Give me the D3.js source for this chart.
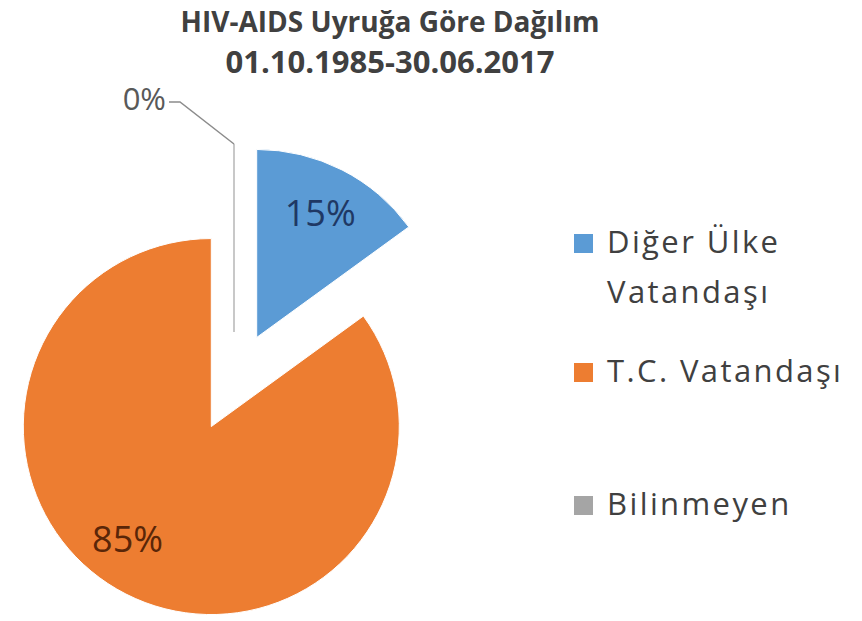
<!DOCTYPE html>
<html lang="tr">
<head>
<meta charset="UTF-8">
<title>HIV-AIDS Uyruğa Göre Dağılım</title>
<style>
  html, body { margin: 0; padding: 0; background: #fff; }
  text { font-family: "Open Sans", Lato, sans-serif; }
</style>
</head>
<body>
<script src="https://cdn.jsdelivr.net/npm/d3@7"></script>
<script>
  // data
  const categories = ["Diğer Ülke Vatandaşı", "T.C. Vatandaşı", "Bilinmeyen"];
  const shares = [15, 85, 0];
  const legendLines = [["Diğer Ülke", "Vatandaşı"], ["T.C. Vatandaşı"], ["Bilinmeyen"]];
  const titleLines = ["HIV-AIDS Uyruğa Göre Dağılım", "01.10.1985-30.06.2017"];

  const width = 862, height = 621;
  const cx = 234, cy = 382, radius = 188, explode = 50;

  const color = d3.scaleOrdinal()
      .domain(categories)
      .range(["#5b9bd5", "#ed7d31", "#a5a5a5"]);
  const labelColor = d3.scaleOrdinal()
      .domain(categories)
      .range(["#1f3864", "#5a2608", "#595959"]);

  const svg = d3.select("body").append("svg")
      .attr("width", width)
      .attr("height", height)
      .attr("viewBox", [0, 0, width, height]);

  // title
  svg.append("g").selectAll("text")
      .data(titleLines)
      .join("text")
      .attr("x", 390)
      .attr("y", (d, i) => i === 0 ? 32 : 73)
      .attr("text-anchor", "middle")
      .attr("font-weight", "bold")
      .attr("font-size", (d, i) => i === 0 ? 28 : 31)
      .attr("fill", "#404040")
      .text(d => d);

  const pie = d3.pie().sort(null).value(d => d.value);
  const arcs = pie(categories.map((c, i) => ({name: c, value: shares[i]})));

  const arc = d3.arc().innerRadius(0).outerRadius(radius);

  // offset of each exploded slice
  const shift = d => {
    const a = (d.startAngle + d.endAngle) / 2;
    return [explode * Math.sin(a), -explode * Math.cos(a)];
  };

  const slices = svg.append("g")
      .attr("transform", `translate(${cx},${cy})`)
      .selectAll("g")
      .data(arcs)
      .join("g")
      .attr("transform", d => `translate(${shift(d)})`);

  slices.append("path")
      .attr("d", arc)
      .attr("fill", d => color(d.data.name))
      .attr("stroke", d => d.data.value === 0 ? "#c8c8c8" : "#fff")
      .attr("stroke-width", d => d.data.value === 0 ? 2 : 1);

  // labels inside the slices
  slices.filter(d => d.data.value > 0)
      .append("text")
      .attr("transform", d => {
        let a = (d.startAngle + d.endAngle) / 2;
        if (d.data.name === "T.C. Vatandaşı") a += 0.17;
        return `translate(${140 * Math.sin(a)},${-140 * Math.cos(a)})`;
      })
      .attr("dy", "0.38em")
      .attr("text-anchor", "middle")
      .attr("font-size", 36)
      .attr("fill", d => labelColor(d.data.name))
      .text(d => d3.format(".0%")(d.data.value / d3.sum(shares)));

  // leader line and label for the zero slice
  const zero = slices.filter(d => d.data.value === 0);
  zero.each(function(d) {
    const g = d3.select(this);
    const a = d.startAngle;
    const p0 = [radius * Math.sin(a), -radius * Math.cos(a)];
    const p1 = [p0[0] - 54, p0[1] - 42];
    const p2 = [p1[0] - 11, p1[1]];
    g.append("path")
        .attr("d", d3.line()([p0, p1, p2]))
        .attr("fill", "none")
        .attr("stroke", "#8c8c8c")
        .attr("stroke-width", 1.5);
    g.append("text")
        .attr("x", p2[0] - 3)
        .attr("y", p2[1])
        .attr("dy", "0.25em")
        .attr("text-anchor", "end")
        .attr("font-size", 31)
        .attr("fill", "#595959")
        .text(d3.format(".0%")(d.data.value));
  });

  // legend
  const legend = svg.append("g")
      .selectAll("g")
      .data(categories)
      .join("g")
      .attr("transform", (d, i) => `translate(574,${[253, 382, 515][i]})`);

  legend.append("rect")
      .attr("y", -19)
      .attr("width", 19)
      .attr("height", 19)
      .attr("fill", d => color(d));

  legend.append("text")
      .attr("font-size", 31)
      .attr("letter-spacing", 2.4)
      .attr("fill", "#404040")
      .selectAll("tspan")
      .data((d, i) => legendLines[i])
      .join("tspan")
      .attr("x", 33)
      .attr("y", (d, i) => i * 50)
      .text(d => d);
</script>
</body>
</html>
